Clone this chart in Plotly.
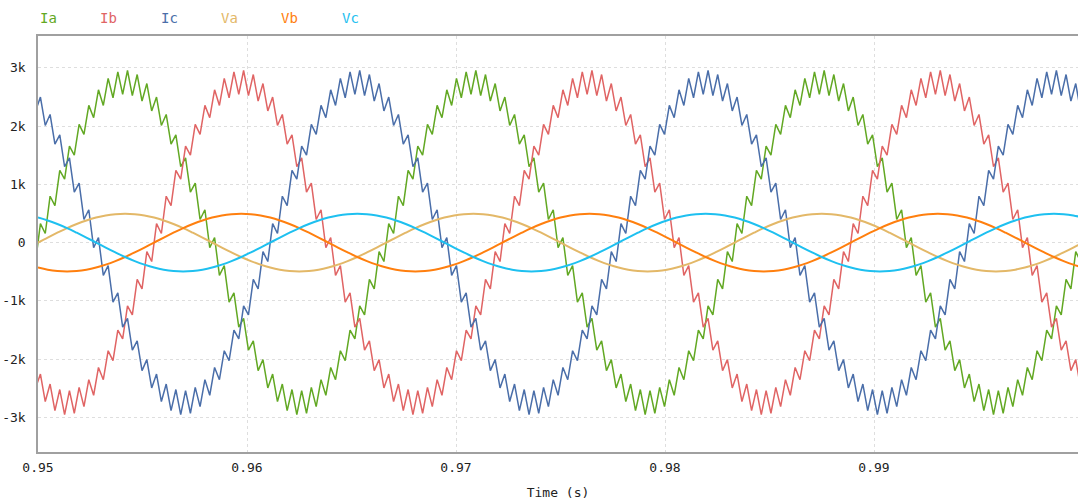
import plotly.graph_objects as go

# ---- time bases (s) ----
cur_t0 = 0.95 - 2.5 / 21600     # current samples: every 5 electrical degrees at 60 Hz
cur_dt = 5 / 21600
volt_t0 = 0.95                  # voltage samples: every 10 electrical degrees
volt_dt = 10 / 21600

# ---- phase currents (A), zig-zag vertices ----
Ia = [-326,
      326, 155, 795, 633, 1240, 1088, 1654, 1502, 2028, 1857, 2354, 2143, 2621, 2353, 2817, 2485, 2930, 2542,
      2953, 2523, 2884, 2429, 2729, 2258, 2496, 2009, 2198, 1688, 1847, 1301, 1452, 864, 1021, 396, 563, -86,
      86, -563, -396, -1021, -864, -1452, -1301, -1847, -1688, -2198, -2009, -2496, -2258, -2729, -2429, -2884, -2523, -2953,
      -2542, -2930, -2485, -2817, -2353, -2621, -2143, -2354, -1857, -2028, -1502, -1654, -1088, -1240, -633, -795, -155, -326,
      326, 155, 795, 633, 1240, 1088, 1654, 1502, 2028, 1857, 2354, 2143, 2621, 2353, 2817, 2485, 2930, 2542,
      2953, 2523, 2884, 2429, 2729, 2258, 2496, 2009, 2198, 1688, 1847, 1301, 1452, 864, 1021, 396, 563, -86,
      86, -563, -396, -1021, -864, -1452, -1301, -1847, -1688, -2198, -2009, -2496, -2258, -2729, -2429, -2884, -2523, -2953,
      -2542, -2930, -2485, -2817, -2353, -2621, -2143, -2354, -1857, -2028, -1502, -1654, -1088, -1240, -633, -795, -155, -326,
      326, 155, 795, 633, 1240, 1088, 1654, 1502, 2028, 1857, 2354, 2143, 2621, 2353, 2817, 2485, 2930, 2542,
      2953, 2523, 2884, 2429, 2729, 2258, 2496, 2009, 2198, 1688, 1847, 1301, 1452, 864, 1021, 396, 563, -86,
      86, -563, -396, -1021, -864, -1452, -1301, -1847, -1688, -2198, -2009, -2496, -2258, -2729, -2429, -2884, -2523, -2953,
      -2542, -2930, -2485, -2817, -2353, -2621, -2143, -2354, -1857, -2028, -1502, -1654, -1088, -1240, -633, -795, -155, -326]

Ib = [-2496, -2258, -2729, -2429, -2884, -2523, -2953,
      -2542, -2930, -2485, -2817, -2353, -2621, -2143, -2354, -1857, -2028, -1502, -1654, -1088, -1240, -633, -795, -155, -326,
      326, 155, 795, 633, 1240, 1088, 1654, 1502, 2028, 1857, 2354, 2143, 2621, 2353, 2817, 2485, 2930, 2542,
      2953, 2523, 2884, 2429, 2729, 2258, 2496, 2009, 2198, 1688, 1847, 1301, 1452, 864, 1021, 396, 563, -86,
      86, -563, -396, -1021, -864, -1452, -1301, -1847, -1688, -2198, -2009, -2496, -2258, -2729, -2429, -2884, -2523, -2953,
      -2542, -2930, -2485, -2817, -2353, -2621, -2143, -2354, -1857, -2028, -1502, -1654, -1088, -1240, -633, -795, -155, -326,
      326, 155, 795, 633, 1240, 1088, 1654, 1502, 2028, 1857, 2354, 2143, 2621, 2353, 2817, 2485, 2930, 2542,
      2953, 2523, 2884, 2429, 2729, 2258, 2496, 2009, 2198, 1688, 1847, 1301, 1452, 864, 1021, 396, 563, -86,
      86, -563, -396, -1021, -864, -1452, -1301, -1847, -1688, -2198, -2009, -2496, -2258, -2729, -2429, -2884, -2523, -2953,
      -2542, -2930, -2485, -2817, -2353, -2621, -2143, -2354, -1857, -2028, -1502, -1654, -1088, -1240, -633, -795, -155, -326,
      326, 155, 795, 633, 1240, 1088, 1654, 1502, 2028, 1857, 2354, 2143, 2621, 2353, 2817, 2485, 2930, 2542,
      2953, 2523, 2884, 2429, 2729, 2258, 2496, 2009, 2198, 1688, 1847, 1301, 1452, 864, 1021, 396, 563, -86,
      86, -563, -396, -1021, -864, -1452, -1301, -1847, -1688, -2198, -2009, -2496]

Ic = [2258, 2496, 2009, 2198, 1688, 1847, 1301, 1452, 864, 1021, 396, 563, -86,
      86, -563, -396, -1021, -864, -1452, -1301, -1847, -1688, -2198, -2009, -2496, -2258, -2729, -2429, -2884, -2523, -2953,
      -2542, -2930, -2485, -2817, -2353, -2621, -2143, -2354, -1857, -2028, -1502, -1654, -1088, -1240, -633, -795, -155, -326,
      326, 155, 795, 633, 1240, 1088, 1654, 1502, 2028, 1857, 2354, 2143, 2621, 2353, 2817, 2485, 2930, 2542,
      2953, 2523, 2884, 2429, 2729, 2258, 2496, 2009, 2198, 1688, 1847, 1301, 1452, 864, 1021, 396, 563, -86,
      86, -563, -396, -1021, -864, -1452, -1301, -1847, -1688, -2198, -2009, -2496, -2258, -2729, -2429, -2884, -2523, -2953,
      -2542, -2930, -2485, -2817, -2353, -2621, -2143, -2354, -1857, -2028, -1502, -1654, -1088, -1240, -633, -795, -155, -326,
      326, 155, 795, 633, 1240, 1088, 1654, 1502, 2028, 1857, 2354, 2143, 2621, 2353, 2817, 2485, 2930, 2542,
      2953, 2523, 2884, 2429, 2729, 2258, 2496, 2009, 2198, 1688, 1847, 1301, 1452, 864, 1021, 396, 563, -86,
      86, -563, -396, -1021, -864, -1452, -1301, -1847, -1688, -2198, -2009, -2496, -2258, -2729, -2429, -2884, -2523, -2953,
      -2542, -2930, -2485, -2817, -2353, -2621, -2143, -2354, -1857, -2028, -1502, -1654, -1088, -1240, -633, -795, -155, -326,
      326, 155, 795, 633, 1240, 1088, 1654, 1502, 2028, 1857, 2354, 2143, 2621, 2353, 2817, 2485, 2930, 2542,
      2953, 2523, 2884, 2429, 2729, 2258]

# ---- phase voltages (V) ----
Va = [0, 86, 169, 248, 318, 379, 429, 465, 487, 495, 487, 465, 429, 379, 318, 248, 169, 86,
      0, -86, -169, -248, -318, -379, -429, -465, -487, -495, -487, -465, -429, -379, -318, -248, -169, -86,
      0, 86, 169, 248, 318, 379, 429, 465, 487, 495, 487, 465, 429, 379, 318, 248, 169, 86,
      0, -86, -169, -248, -318, -379, -429, -465, -487, -495, -487, -465, -429, -379, -318, -248, -169, -86,
      0, 86, 169, 248, 318, 379, 429, 465, 487, 495, 487, 465, 429, 379, 318, 248, 169, 86,
      0, -86, -169, -248, -318, -379, -429, -465, -487, -495, -487, -465, -429, -379, -318, -248, -169, -86,
      0]
Vb = [-429, -465, -487, -495, -487, -465, -429, -379, -318, -248, -169, -86,
      0, 86, 169, 248, 318, 379, 429, 465, 487, 495, 487, 465, 429, 379, 318, 248, 169, 86,
      0, -86, -169, -248, -318, -379, -429, -465, -487, -495, -487, -465, -429, -379, -318, -248, -169, -86,
      0, 86, 169, 248, 318, 379, 429, 465, 487, 495, 487, 465, 429, 379, 318, 248, 169, 86,
      0, -86, -169, -248, -318, -379, -429, -465, -487, -495, -487, -465, -429, -379, -318, -248, -169, -86,
      0, 86, 169, 248, 318, 379, 429, 465, 487, 495, 487, 465, 429, 379, 318, 248, 169, 86,
      0, -86, -169, -248, -318, -379, -429]
Vc = [429, 379, 318, 248, 169, 86,
      0, -86, -169, -248, -318, -379, -429, -465, -487, -495, -487, -465, -429, -379, -318, -248, -169, -86,
      0, 86, 169, 248, 318, 379, 429, 465, 487, 495, 487, 465, 429, 379, 318, 248, 169, 86,
      0, -86, -169, -248, -318, -379, -429, -465, -487, -495, -487, -465, -429, -379, -318, -248, -169, -86,
      0, 86, 169, 248, 318, 379, 429, 465, 487, 495, 487, 465, 429, 379, 318, 248, 169, 86,
      0, -86, -169, -248, -318, -379, -429, -465, -487, -495, -487, -465, -429, -379, -318, -248, -169, -86,
      0, 86, 169, 248, 318, 379, 429, 465, 487, 495, 487, 465, 429]

x_ticks = [0.95, 0.96, 0.97, 0.98, 0.99]
x_ticktext = ["0.95", "0.96", "0.97", "0.98", "0.99"]
y_ticks = [-3000, -2000, -1000, 0, 1000, 2000, 3000]
y_ticktext = ["-3k", "-2k", "-1k", "0", "1k", "2k", "3k"]

names = ["Ia", "Ib", "Ic", "Va", "Vb", "Vc"]
colors = {"Ia": "#62a823", "Ib": "#e06464", "Ic": "#4a6ea9",
          "Va": "#e3b868", "Vb": "#ff7f0e", "Vc": "#1ec0f0"}

fig = go.Figure()
for n, ys in [("Ia", Ia), ("Ib", Ib), ("Ic", Ic)]:
    fig.add_trace(go.Scatter(x0=cur_t0, dx=cur_dt, y=ys, mode="lines", name=n,
                             line=dict(color=colors[n], width=1.5), showlegend=False))
for n, ys in [("Va", Va), ("Vb", Vb), ("Vc", Vc)]:
    fig.add_trace(go.Scatter(x0=volt_t0, dx=volt_dt, y=ys, mode="lines", name=n,
                             line=dict(color=colors[n], width=2, shape="spline"), showlegend=False))

mono = "DejaVu Sans Mono"
fig.update_layout(width=1078, height=500, margin=dict(l=38, r=0, t=36, b=48),
                  plot_bgcolor="white", paper_bgcolor="white",
                  font=dict(family=mono, size=13, color="#222"))
fig.update_xaxes(range=[0.95, 0.95 + 1040 / 20900], tickvals=x_ticks, ticktext=x_ticktext,
                 showline=True, linecolor="#a0a0a0", linewidth=1.5, mirror=True,
                 showgrid=True, gridcolor="#dedede", griddash="dot", zeroline=False, ticks="",
                 ticklabelstandoff=3,
                 title=dict(text="Time (s)", standoff=15, font=dict(family=mono, size=13)))
fig.update_yaxes(range=[-3595, 3545], tickvals=y_ticks, ticktext=y_ticktext,
                 showline=True, linecolor="#a0a0a0", linewidth=1.5, mirror=False,
                 showgrid=True, gridcolor="#dedede", griddash="dot", zeroline=False, ticks="",
                 ticklabelstandoff=8)
for i, n in enumerate(names):
    fig.add_annotation(text=n, xref="paper", yref="paper", x=(i * 60.3) / 1040, y=1 + 18 / 416,
                       xanchor="left", yanchor="middle", showarrow=False,
                       font=dict(family=mono, size=14, color=colors[n]))
fig.add_annotation(text="1", xref="x", yref="paper", x=1.0, y=-13 / 416, xanchor="center",
                   yanchor="middle", showarrow=False, xshift=-3,
                   font=dict(family=mono, size=13, color="#222"))
fig.write_html("out.html", config={"displayModeBar": False},
               post_script="document.body.style.margin='0';document.body.style.overflow='hidden';")
